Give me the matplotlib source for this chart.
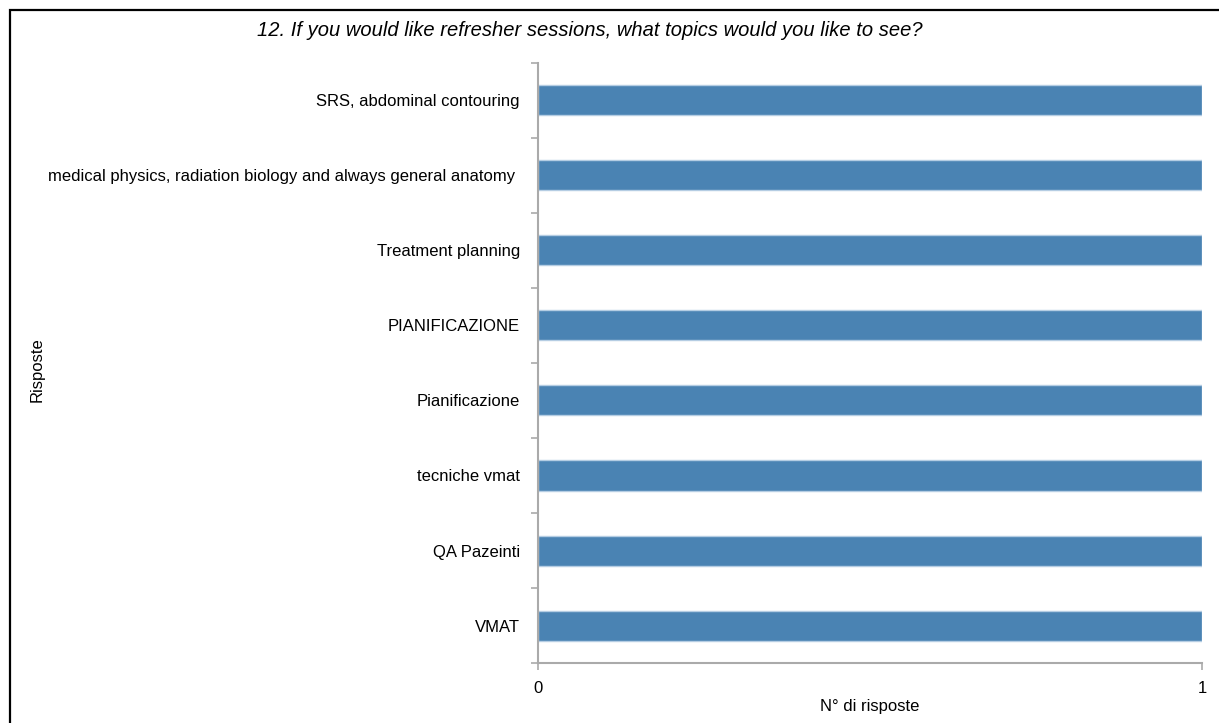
import matplotlib
matplotlib.use("Agg")
from matplotlib import pyplot as plt
from matplotlib.patches import Rectangle
import numpy as np

plt.rcParams['font.family'] = ['Liberation Sans', 'DejaVu Sans']

# risposte, dall'alto in basso
risposte = ['SRS, abdominal contouring',
            'medical physics, radiation biology and always general anatomy ',
            'Treatment planning',
            'PIANIFICAZIONE',
            'Pianificazione',
            'tecniche vmat',
            'QA Pazeinti',
            'VMAT']
conteggi = [1, 1, 1, 1, 1, 1, 1, 1]

W, H = 1219, 723
fig = plt.figure(figsize=(W / 100, H / 100), dpi=100)

# cornice nera
fig.patches.append(Rectangle((10 / W, -0.05), 1.1, 1 - 10 / H + 0.05,
                             transform=fig.transFigure, fill=False,
                             edgecolor='black', linewidth=1.6))

ax = fig.add_axes([538 / W, 1 - 663 / H, (1202 - 538) / W, (663 - 63) / H])

n = len(risposte)
pos = np.arange(n)[::-1]
ax.barh(pos, conteggi, height=0.4, color='#4a83b3', edgecolor='#b5cde3', linewidth=1)

ax.set_xlim(0, 1)
ax.set_ylim(-0.5, n - 0.5)
ax.set_xticks([0, 1])
ax.set_xticklabels(['0', '1'], fontsize=12)

# tacche sui confini, etichette al centro
ax.set_yticks(np.arange(n + 1) - 0.5)
ax.set_yticklabels([])
ax.set_yticks(pos, minor=True)
ax.set_yticklabels(risposte, minor=True, fontsize=12)
ax.tick_params(axis='y', which='minor', length=0, pad=13)
ax.tick_params(axis='y', which='major', length=5, color='#aaaaaa', width=1.2)
ax.tick_params(axis='x', length=5, color='#aaaaaa', width=1.2, pad=8)

for s in ['top', 'right']:
    ax.spines[s].set_visible(False)
for s in ['left', 'bottom']:
    ax.spines[s].set_color('#aaaaaa')
    ax.spines[s].set_linewidth(1.5)

fig.text(37 / W, 1 - 370 / H, 'Risposte', rotation=90, ha='center', va='center', fontsize=12)
fig.text(870 / W, 1 - 707 / H, 'N° di risposte', ha='center', va='center', fontsize=12)
fig.text(590 / W, 1 - 31 / H,
         '12. If you would like refresher sessions, what topics would you like to see?',
         ha='center', va='center', fontsize=14.5, style='italic')

fig.savefig('out.png', dpi=100)
